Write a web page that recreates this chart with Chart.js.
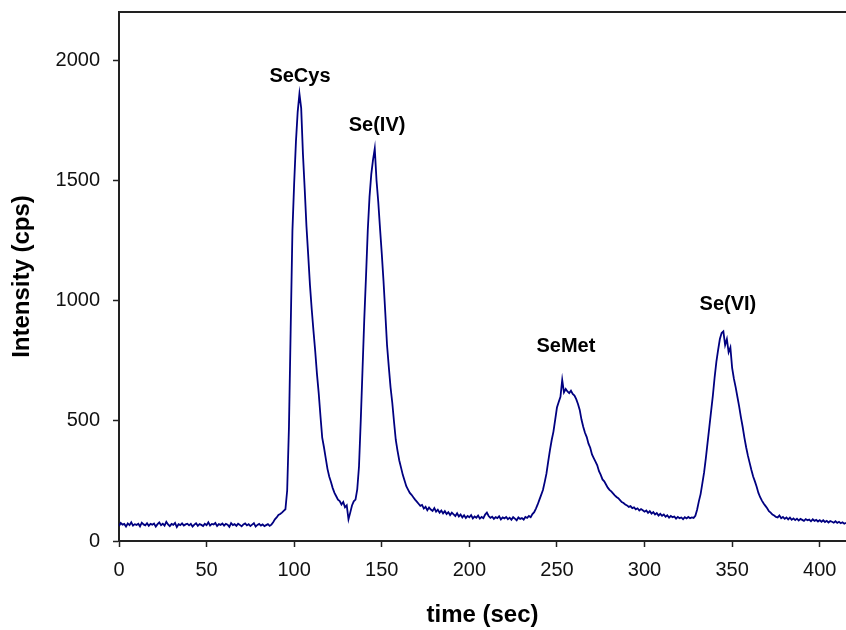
<!DOCTYPE html>
<html>
<head>
<meta charset="utf-8">
<script src="https://cdn.jsdelivr.net/npm/chart.js@4.4.1/dist/chart.umd.min.js"></script>
<style>
    html, body { margin: 0; padding: 0; background: #fff; }
    #wrap { width: 846px; height: 630px; }
</style>
</head>
<body>
<div id="wrap"><canvas id="chromChart" width="846" height="630"></canvas></div>
<script>
// Chromatogram: one reading per second, 0..415 s
const timeStart = 0;
const timeStep = 1;
const intensity = [
    62, 75, 68, 71, 60, 73, 66, 78, 64, 70,
    67, 72, 61, 76, 69, 65, 74, 63, 71, 68,
    73, 60, 70, 77, 66, 72, 64, 80, 69, 62,
    71, 67, 75, 58, 70, 66, 73, 64, 69, 72,
    65, 71, 60, 68, 74, 63, 70, 67, 62, 72,
    66, 78, 64, 71, 69, 75, 62, 70, 67, 73,
    64, 71, 68, 59, 74, 66, 70, 63, 72, 67,
    61, 69, 73, 65, 70, 62, 68, 74, 60, 67,
    71, 64, 69, 62, 66, 70, 63, 68, 78, 90,
    98, 108, 112, 118, 125, 132, 210, 470, 880, 1290,
    1490, 1660, 1785, 1860, 1800, 1610, 1465, 1310, 1190, 1065,
    965, 875, 790, 695, 615, 520, 430, 390, 345, 300,
    268, 245, 220, 200, 186, 172, 166, 152, 162, 140,
    148, 90, 118, 148, 165, 172, 215, 310, 500, 710,
    920, 1100, 1290, 1430, 1525, 1585, 1632, 1500, 1410, 1300,
    1195, 1080, 950, 815, 725, 640, 575, 495, 420, 375,
    335, 305, 275, 252, 228, 214, 200, 192, 182, 172,
    164, 155, 146, 150, 135, 142, 128, 139, 131, 125,
    137, 122, 130, 118, 127, 115, 124, 112, 120, 108,
    118, 111, 104, 115, 102, 110, 98, 107, 96, 104,
    99, 108, 94, 102, 97, 106, 93, 100, 95, 110,
    118, 104, 96, 101, 92, 99, 95, 103, 90, 98,
    94, 100, 91, 97, 88, 99, 93, 86, 98, 92,
    95, 89, 100, 96, 104, 99, 112, 120, 135, 152,
    172, 192, 212, 245, 280, 330, 378, 420, 455, 505,
    555, 578, 600, 670, 618, 632, 622, 615, 625, 612,
    605, 590, 570, 545, 505, 475, 450, 432, 405, 388,
    360, 345, 330, 315, 290, 275, 256, 248, 235, 222,
    213, 206, 198, 190, 183, 178, 170, 162, 158, 152,
    148, 142, 145, 137, 140, 132, 136, 127, 133, 128,
    122, 127, 117, 124, 114, 120, 110, 116, 106, 113,
    105, 110, 101, 107, 97, 104, 99, 102, 93, 100,
    95, 98, 91, 99, 94, 100, 95, 98, 96, 105,
    130, 165, 195, 240, 285, 345, 410, 475, 540, 605,
    680, 745, 795, 840, 865, 872, 815, 840, 785, 805,
    720, 675, 640, 600, 560, 515, 475, 430, 390, 355,
    325, 295, 268, 248, 226, 200, 182, 168, 156, 146,
    136, 124, 118, 110, 106, 100, 98, 106, 95, 100,
    92, 98, 90, 97, 88, 94, 87, 93, 85, 92,
    88, 84, 91, 86, 89, 82, 90, 84, 88, 81,
    87, 80, 86, 79, 84, 77, 83, 80, 76, 82,
    75, 80, 74, 78, 72, 76
];

// Peak names and where they sit (time, intensity)
const peakNames = ['SeCys', 'Se(IV)', 'SeMet', 'Se(VI)'];
const peakLabelTime = [103.3, 147.3, 255.1, 347.6];
const peakLabelValue = [1932, 1730, 808, 984];

// axis ranges and tick labels
const xMin = 0, xMax = 415;
const xTicks = [0, 50, 100, 150, 200, 250, 300, 350, 400];
const yMin = 0, yMax = 2200;
const yTicks = [0, 500, 1000, 1500, 2000];

const points = intensity.map(function(v, i) {
    return { x: timeStart + i * timeStep, y: v };
});

const fontFamily = '"Liberation Sans", Arial, sans-serif';

// Frame line on top + peak labels
const extras = {
    id: 'extras',
    afterDatasetsDraw: function(chart) {
        const ctx = chart.ctx;
        const area = chart.chartArea;
        const xs = chart.scales.x;
        const ys = chart.scales.y;
        ctx.save();
        ctx.strokeStyle = '#222';
        ctx.lineWidth = 2;
        ctx.beginPath();
        ctx.moveTo(area.left - 1, area.top);
        ctx.lineTo(area.right, area.top);
        ctx.stroke();

        ctx.fillStyle = '#000';
        ctx.font = 'bold 20px ' + fontFamily;
        ctx.textAlign = 'center';
        ctx.textBaseline = 'middle';
        peakNames.forEach(function(name, i) {
            ctx.fillText(name, xs.getPixelForValue(peakLabelTime[i]), ys.getPixelForValue(peakLabelValue[i]));
        });
        ctx.restore();
    }
};

const ctx = document.getElementById('chromChart').getContext('2d');
const chromChart = new Chart(ctx, {
    type: 'scatter',
    data: {
        datasets: [{
            data: points,
            showLine: true,
            borderColor: '#000080',
            borderWidth: 1.8,
            pointRadius: 0,
            tension: 0
        }]
    },
    options: {
        responsive: false,
        animation: false,
        layout: { padding: { top: 12, right: 0, left: 0, bottom: 0 } },
        plugins: {
            legend: { display: false },
            tooltip: { enabled: false }
        },
        scales: {
            x: {
                type: 'linear',
                min: xMin,
                max: xMax,
                afterBuildTicks: function(scale) {
                    scale.ticks = xTicks.map(function(v) { return { value: v }; });
                },
                afterFit: function(scale) {
                    scale.height = 89;
                    scale.paddingLeft = 0;
                    scale.paddingRight = 0;
                },
                ticks: {
                    color: '#111',
                    padding: 11,
                    callback: function(v) { return String(v); },
                    font: { family: fontFamily, size: 20 }
                },
                grid: { drawOnChartArea: false, tickLength: 6, color: '#222', tickWidth: 1.5 },
                border: { color: '#222', width: 2 },
                title: {
                    display: true,
                    text: 'time (sec)',
                    color: '#000',
                    font: { family: fontFamily, size: 24, weight: 'bold' },
                    padding: { top: 0, bottom: 0 }
                }
            },
            y: {
                min: yMin,
                max: yMax,
                afterBuildTicks: function(scale) {
                    scale.ticks = yTicks.map(function(v) { return { value: v }; });
                },
                afterFit: function(scale) {
                    scale.width = 119;
                    scale.paddingTop = 0;
                    scale.paddingBottom = 0;
                },
                ticks: {
                    color: '#111',
                    padding: 13,
                    callback: function(v) { return String(v); },
                    font: { family: fontFamily, size: 20 }
                },
                grid: { drawOnChartArea: false, tickLength: 6, color: '#222', tickWidth: 1.5 },
                border: { color: '#222', width: 2 },
                title: {
                    display: true,
                    text: 'Intensity (cps)',
                    color: '#000',
                    font: { family: fontFamily, size: 24, weight: 'bold' },
                    padding: { top: 8, bottom: 0 }
                }
            }
        }
    },
    plugins: [extras]
});
</script>
</body>
</html>
